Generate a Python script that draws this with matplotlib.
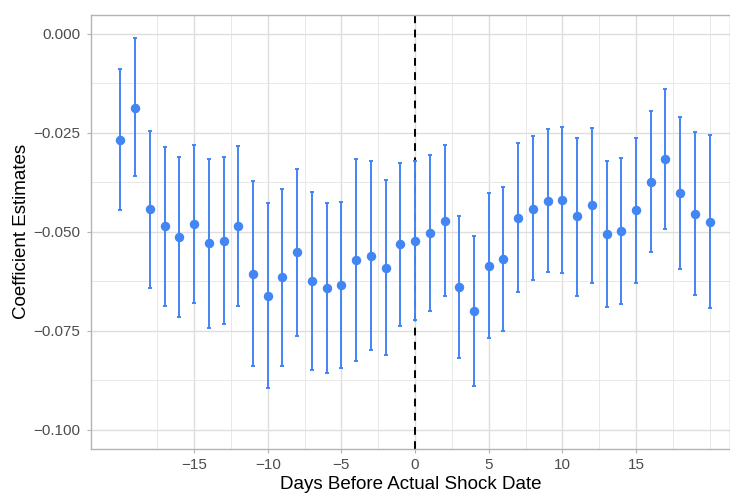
import matplotlib.pyplot as plt
import numpy as np

plt.rcParams['font.family'] = ['Liberation Sans', 'DejaVu Sans']

# Event-study estimates with 95% intervals, by day relative to the shock
days = list(range(-20, 21))
coef = [-0.0267, -0.0187, -0.0443, -0.0486, -0.0513, -0.0481, -0.0528, -0.0523,
        -0.0486, -0.0606, -0.0661, -0.0614, -0.0551, -0.0625, -0.0641, -0.0634,
        -0.0572, -0.0560, -0.0592, -0.0531, -0.0522, -0.0503, -0.0472, -0.0639,
        -0.0699, -0.0585, -0.0568, -0.0465, -0.0443, -0.0422, -0.0420, -0.0461,
        -0.0433, -0.0506, -0.0498, -0.0445, -0.0373, -0.0316, -0.0402, -0.0455,
        -0.0474]
ci_low = [-0.0444, -0.0360, -0.0641, -0.0687, -0.0714, -0.0680, -0.0742, -0.0733,
          -0.0688, -0.0839, -0.0893, -0.0838, -0.0763, -0.0848, -0.0855, -0.0843,
          -0.0827, -0.0798, -0.0812, -0.0737, -0.0722, -0.0699, -0.0663, -0.0818,
          -0.0889, -0.0769, -0.0751, -0.0652, -0.0622, -0.0601, -0.0604, -0.0661,
          -0.0629, -0.0689, -0.0683, -0.0628, -0.0551, -0.0492, -0.0593, -0.0660,
          -0.0692]
ci_high = [-0.0088, -0.0012, -0.0245, -0.0285, -0.0311, -0.0282, -0.0315, -0.0312,
           -0.0284, -0.0371, -0.0428, -0.0391, -0.0341, -0.0400, -0.0427, -0.0424,
           -0.0317, -0.0321, -0.0370, -0.0325, -0.0320, -0.0306, -0.0280, -0.0459,
           -0.0510, -0.0401, -0.0386, -0.0277, -0.0258, -0.0240, -0.0235, -0.0262,
           -0.0237, -0.0322, -0.0313, -0.0262, -0.0195, -0.0139, -0.0211, -0.0248,
           -0.0255]

x = np.array(days)
y = np.array(coef)
yerr = np.vstack([y - np.array(ci_low), np.array(ci_high) - y])

fig = plt.figure(figsize=(7.3, 4.94), dpi=100)
ax = fig.add_axes([91 / 730, 45 / 494, 639 / 730, 434.3 / 494])

blue = '#4285F4'
ax.axvline(0, color='black', linestyle=(0, (4, 3.3)), linewidth=1.4, zorder=2)
ax.errorbar(x, y, yerr=yerr, fmt='o', color=blue, ecolor=blue, markersize=5.8,
            elinewidth=1.4, capsize=1.3, capthick=1.4, zorder=3)

ax.set_xlim(-22.0, 21.38)
ax.set_ylim(-0.1048, 0.0048)
ax.set_xticks([-15, -10, -5, 0, 5, 10, 15])
ax.set_xticks(np.arange(-17.5, 21, 2.5), minor=True)
ax.set_xticklabels(['\u221215', '\u221210', '\u22125', '0', '5', '10', '15'])
yt = [0.0, -0.025, -0.05, -0.075, -0.1]
ax.set_yticks(yt)
ax.set_yticklabels(['0.000', '\u22120.025', '\u22120.050', '\u22120.075', '\u22120.100'])
ax.set_yticks(np.arange(-0.0875, 0.0, 0.025), minor=True)

ax.grid(which='major', color='#DEDEDE', linewidth=1.0)
ax.grid(which='minor', color='#E8E8E8', linewidth=0.7)
ax.set_axisbelow(True)
ax.tick_params(which='major', length=3, width=0.8, color='#B3B3B3',
               labelcolor='#4D4D4D', labelsize=11)
ax.tick_params(axis='y', pad=4.5)
ax.tick_params(axis='x', pad=3.5)
ax.tick_params(which='minor', length=0)
for s in ax.spines.values():
    s.set_color('#B3B3B3')
    s.set_linewidth(1.0)

ax.set_xlabel('Days Before Actual Shock Date', fontsize=13.5, labelpad=3)
ax.set_ylabel('Coefficient Estimates', fontsize=13.5, labelpad=2.5)

plt.savefig('out.png', dpi=100)
